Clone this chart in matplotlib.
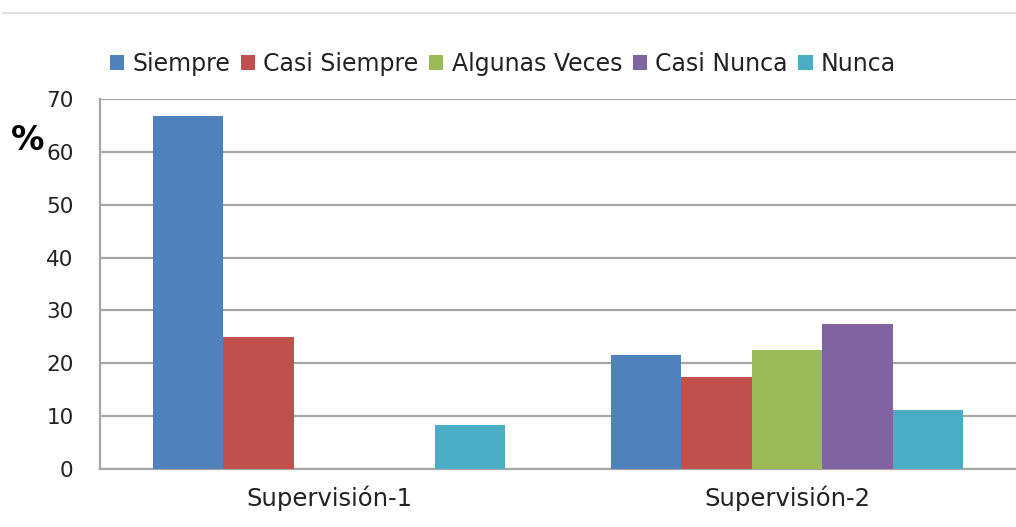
import numpy as np
import matplotlib
matplotlib.use("Agg")
import matplotlib.pyplot as plt
from matplotlib.lines import Line2D

categorias = ["Supervisión-1", "Supervisión-2"]
series = ["Siempre", "Casi Siempre", "Algunas Veces", "Casi Nunca", "Nunca"]
siempre = [66.7, 21.6]
casi_siempre = [25.0, 17.4]
algunas_veces = [0.0, 22.5]
casi_nunca = [0.0, 27.4]
nunca = [8.3, 11.2]
valores = [siempre, casi_siempre, algunas_veces, casi_nunca, nunca]
colores = ["#4F81BD", "#C0504D", "#9BBB59", "#8064A2", "#4BACC6"]

fig = plt.figure(figsize=(10.16, 5.27), dpi=100)
ax = fig.add_axes([100 / 1016, 58 / 527, 1 - 100 / 1016, 370 / 527])

x = np.arange(len(categorias))
w = 0.1537
for i, (nombre, vals, c) in enumerate(zip(series, valores, colores)):
    ax.bar(x + (i - 2) * w, vals, width=w, color=c, label=nombre, zorder=3)

ax.set_xlim(-0.5, 1.5)
ax.set_ylim(0, 70)
ax.set_yticks(range(0, 71, 10))
ax.yaxis.grid(True, color="#a6a6a6", linewidth=1.6, zorder=0)
ax.set_xticks(x)
ax.set_xticklabels(categorias, fontsize=17.5, color="#222222")
ax.tick_params(axis="y", labelsize=15.5, labelcolor="#222222", length=0, pad=19)
ax.tick_params(axis="x", length=0, pad=12)
for s in ["top", "right"]:
    ax.spines[s].set_visible(False)
for s in ["left", "bottom"]:
    ax.spines[s].set_color("#a6a6a6")
    ax.spines[s].set_linewidth(1.6)

leg = fig.legend(loc="center left", bbox_to_anchor=(110 / 1016, 1 - 64 / 527),
                 ncol=5, frameon=False, fontsize=17, handlelength=0.6,
                 handleheight=0.6, handletextpad=0.35, columnspacing=0.45,
                 borderaxespad=0, borderpad=0)
for t in leg.get_texts():
    t.set_color("#222222")

fig.text(11 / 1016, 1 - 140 / 527, "%", fontsize=24, fontweight="bold",
         va="center", ha="left")
fig.add_artist(Line2D([3 / 1016, 1], [1 - 13 / 527, 1 - 13 / 527],
                      color="#d9d9d9", linewidth=1.2))

fig.savefig("out.png", dpi=100)
